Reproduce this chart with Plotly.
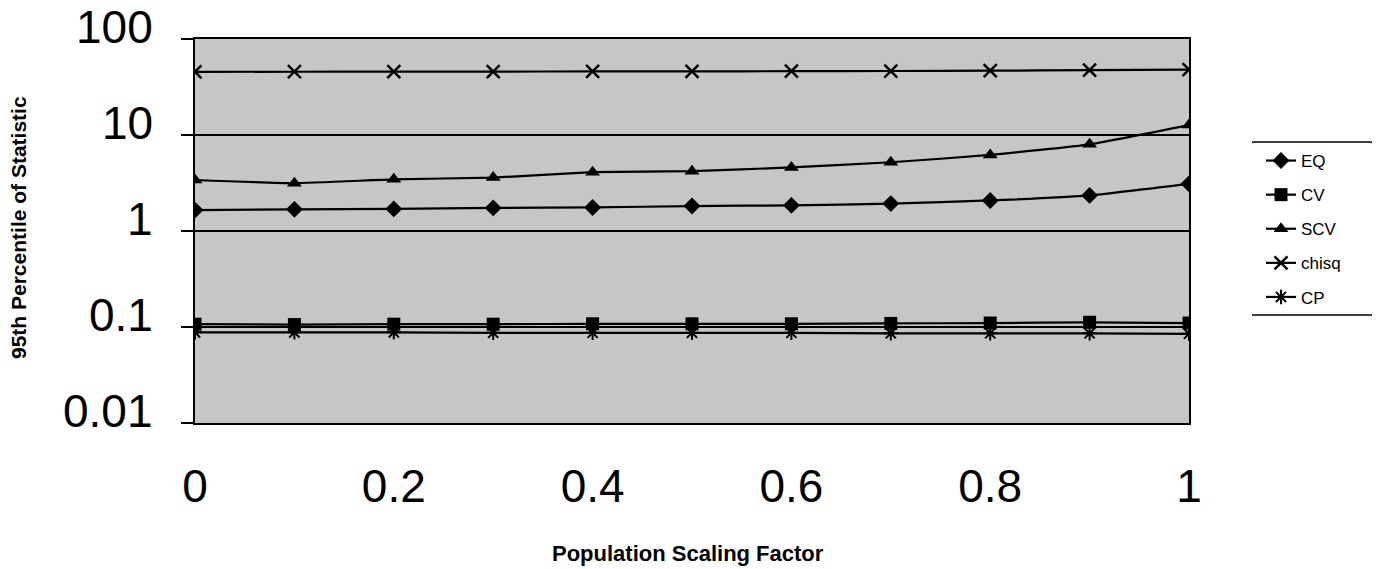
import math
import plotly.graph_objects as go

# Population scaling factor (x) and the 95th percentile of each statistic
scaling = [0.0, 0.1, 0.2, 0.3, 0.4, 0.5, 0.6, 0.7, 0.8, 0.9, 1.0]
eq = [1.65, 1.68, 1.70, 1.74, 1.76, 1.82, 1.85, 1.93, 2.08, 2.35, 3.1]
cv = [0.107, 0.106, 0.107, 0.107, 0.108, 0.108, 0.108, 0.109, 0.110, 0.112, 0.110]
scv = [3.4, 3.15, 3.45, 3.6, 4.1, 4.2, 4.6, 5.2, 6.2, 8.0, 12.7]
chisq = [45.5, 45.6, 45.7, 45.8, 45.9, 46.0, 46.2, 46.4, 46.8, 47.3, 48.0]
cp = [0.088, 0.088, 0.088, 0.087, 0.087, 0.087, 0.087, 0.086, 0.086, 0.086, 0.085]

x_ticks = [0, 0.2, 0.4, 0.6, 0.8, 1]
x_tick_text = ["0", "0.2", "0.4", "0.6", "0.8", "1"]
y_ticks = [0.01, 0.1, 1, 10, 100]
y_tick_text = ["0.01", "0.1", "1", "10", "100"]

series = [
    ("EQ", eq, dict(symbol="diamond", size=13)),
    ("CV", cv, dict(symbol="square", size=13)),
    ("SCV", scv, dict(symbol="triangle-up", size=13)),
    ("chisq", chisq, dict(symbol="x-thin-open", size=13, line=dict(width=2.5, color="black"))),
    ("CP", cp, dict(symbol="asterisk-open", size=12, line=dict(width=2, color="black"))),
]

fig = go.Figure()
for name, values, marker in series:
    fig.add_trace(go.Scatter(
        x=scaling, y=values, name=name, legendgroup=name,
        mode="lines+markers",
        line=dict(color="black", width=2.2, shape="spline", smoothing=0.4),
        marker=dict(color="black", **marker),
    ))

font_family = "Liberation Sans, Arial, sans-serif"
W, H = 1385, 569
L, R, T, B = 195, 196, 39, 146
PW, PH = W - L - R, H - T - B


def px_to_paper_x(px):
    return (px - L) / PW


def px_to_paper_y(py):
    return (H - B - py) / PH


fig.update_layout(
    width=W, height=H,
    margin=dict(l=L, r=R, t=T, b=B, autoexpand=False),
    paper_bgcolor="white",
    plot_bgcolor="#c6c6c6",
    font=dict(family=font_family, color="black"),
    showlegend=True,
    legend=dict(
        x=px_to_paper_x(1261), xanchor="left", y=px_to_paper_y(143), yanchor="top",
        font=dict(size=17, family=font_family),
        tracegroupgap=9,
        bgcolor="rgba(0,0,0,0)",
        itemwidth=30,
    ),
    xaxis=dict(
        range=[0, 1],
        tickvals=x_ticks, ticktext=x_tick_text,
        tickfont=dict(size=46),
        ticks="", ticklabelstandoff=22,
        showgrid=False, zeroline=False, automargin=False,
        showline=True, linecolor="black", linewidth=2, mirror=True,
    ),
    yaxis=dict(
        type="log", range=[-2, 2],
        tickvals=y_ticks, showticklabels=False,
        ticks="outside", ticklen=12, tickwidth=2, tickcolor="black",
        showgrid=True, gridcolor="black", gridwidth=2,
        zeroline=False, automargin=False,
        showline=True, linecolor="black", linewidth=2, mirror=True,
    ),
)

# Y tick labels, drawn slightly above their grid lines
for val, txt in zip(y_ticks, y_tick_text):
    fig.add_annotation(
        x=0, xref="paper", y=math.log10(val), yref="y", text=txt, showarrow=False,
        xanchor="right", yanchor="middle", xshift=-40, yshift=12,
        font=dict(size=46, family=font_family, color="black"),
    )

# Axis titles
fig.add_annotation(
    x=px_to_paper_x(18), xref="paper", y=px_to_paper_y(228), yref="paper",
    text="<b>95th Percentile of Statistic</b>", showarrow=False, textangle=-90,
    xanchor="center", yanchor="middle",
    font=dict(size=21, family=font_family, color="black"),
)
fig.add_annotation(
    x=px_to_paper_x(688), xref="paper", y=px_to_paper_y(553), yref="paper",
    text="<b>Population Scaling Factor</b>", showarrow=False,
    xanchor="center", yanchor="middle",
    font=dict(size=22, family=font_family, color="black"),
)

# Rules above and below the legend
for ypos in (142, 315):
    yp = px_to_paper_y(ypos)
    fig.add_shape(type="line", xref="paper", yref="paper",
                  x0=px_to_paper_x(1252), x1=px_to_paper_x(1372), y0=yp, y1=yp,
                  line=dict(color="black", width=1.5))

fig.write_html("out.html")
